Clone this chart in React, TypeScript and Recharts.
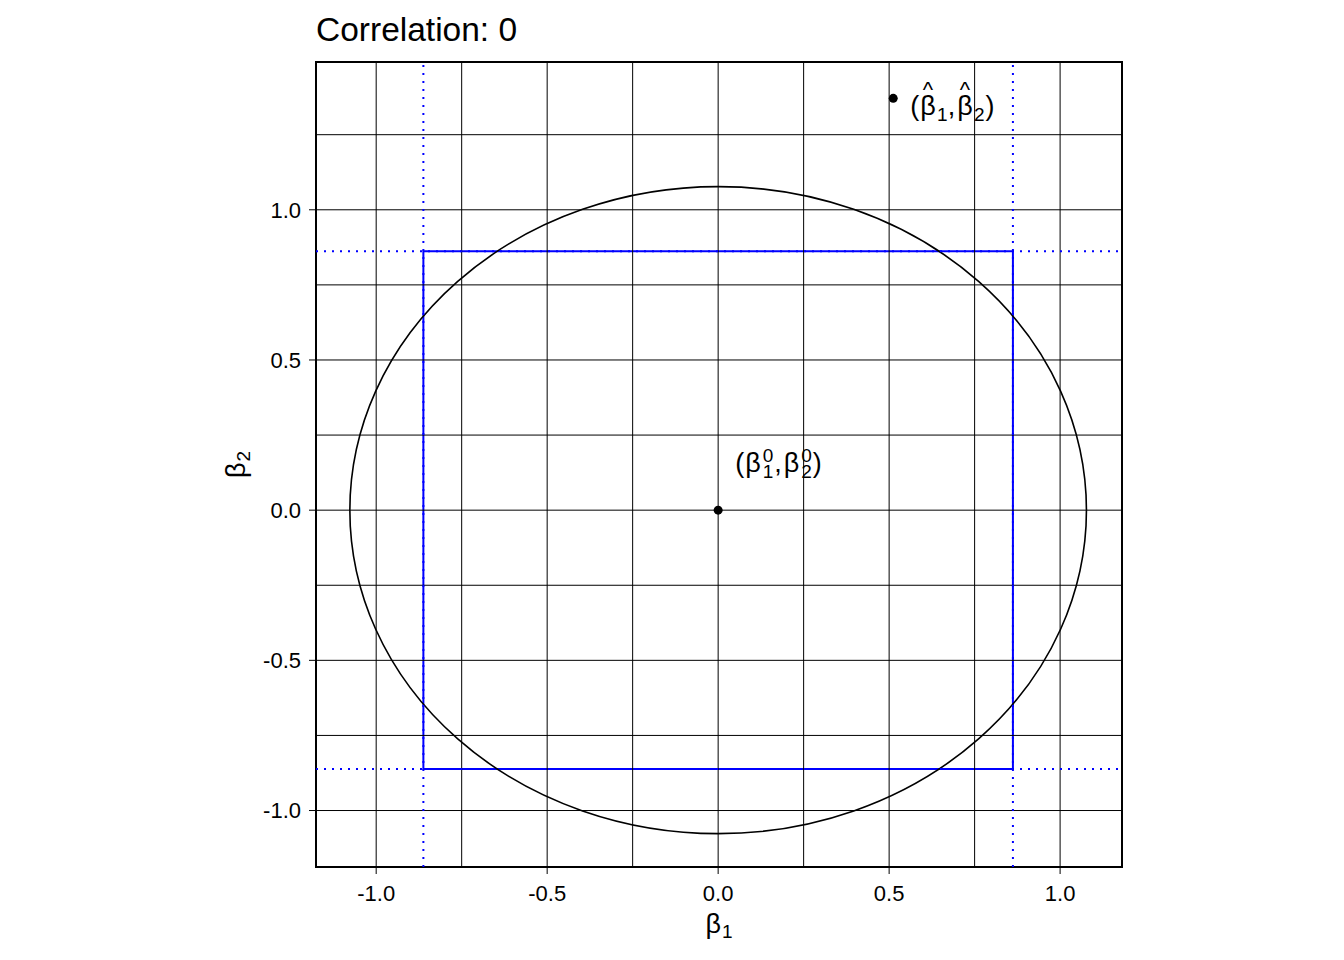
import React from 'react'
import {
    ComposedChart,
    XAxis,
    YAxis,
    Scatter,
    ReferenceLine,
    ReferenceArea
} from 'recharts'

// axis setup
const X_DOMAIN: [number, number] = [-1.176, 1.181]
const Y_DOMAIN: [number, number] = [-1.188, 1.492]
const X_TICKS = [-1, -0.5, 0, 0.5, 1]
const Y_TICKS = [-1, -0.5, 0, 0.5, 1]
const X_GRID = [-1, -0.75, -0.5, -0.25, 0, 0.25, 0.5, 0.75, 1]
const Y_GRID = [-1, -0.75, -0.5, -0.25, 0, 0.25, 0.5, 0.75, 1, 1.25]

// confidence regions (independent intervals and joint circle)
const BOX_HALF = 0.862
const CIRCLE_R = 1.077

// true value and estimate
const POINT_X = [0, 0.512]
const POINT_Y = [0, 1.371]
const POINT_KIND = ['true', 'hat']

const points = POINT_X.map((x, i) => ({ x, y: POINT_Y[i], kind: POINT_KIND[i] }))

const FONT = '"Liberation Sans", Arial, sans-serif'
const BLUE = '#0000ff'

const PointShape = (props: any) => {
    const { cx, cy, payload } = props
    if (payload.kind === 'hat') {
        return (
            <g>
                <circle cx={cx} cy={cy} r={4.5} fill="#000" />
                <text x={cx + 17} y={cy + 16.5} fontSize={27} fontFamily={FONT} fill="#000">
                    (<tspan dx={1}>β</tspan>
                    <tspan fontSize={22} dx={-13} dy={-18}>^</tspan>
                    <tspan fontSize={19} dx={4} dy={24}>1</tspan>
                    <tspan dy={-6}>,</tspan>
                    <tspan dx={2}>β</tspan>
                    <tspan fontSize={22} dx={-13} dy={-18}>^</tspan>
                    <tspan fontSize={19} dx={4} dy={24}>2</tspan>
                    <tspan dx={1} dy={-6}>)</tspan>
                </text>
            </g>
        )
    }
    return (
        <g>
            <circle cx={cx} cy={cy} r={4.5} fill="#000" />
            <text x={cx + 17} y={cy - 38.5} fontSize={27} fontFamily={FONT} fill="#000">
                (<tspan dx={1}>β</tspan>
                <tspan fontSize={19} dx={2} dy={-10}>0</tspan>
                <tspan fontSize={19} dx={-10.6} dy={16}>1</tspan>
                <tspan dx={1} dy={-6}>,</tspan>
                <tspan dx={2}>β</tspan>
                <tspan fontSize={19} dx={2} dy={-10}>0</tspan>
                <tspan fontSize={19} dx={-10.6} dy={16}>2</tspan>
                <tspan dx={1} dy={-6}>)</tspan>
            </text>
        </g>
    )
}

const XTitle = (props: any) => {
    const { x, y, width } = props.viewBox
    return (
        <text x={x + width / 2} y={y + 66} textAnchor="middle" fontSize={27} fontFamily={FONT} fill="#000">
            β<tspan fontSize={19} dx={1} dy={5}>1</tspan>
        </text>
    )
}

const YTitle = (props: any) => {
    const { x, y, height } = props.viewBox
    return (
        <text
            transform={`translate(${x + 29}, ${y + height / 2}) rotate(-90)`}
            textAnchor="middle"
            fontSize={27}
            fontFamily={FONT}
            fill="#000"
        >
            β<tspan fontSize={19} dx={1} dy={5}>2</tspan>
        </text>
    )
}

const ellipseShape = (p: any) => (
    <ellipse
        cx={p.x + p.width / 2}
        cy={p.y + p.height / 2}
        rx={Math.abs(p.width) / 2}
        ry={Math.abs(p.height) / 2}
        fill="none"
        stroke="#000"
        strokeWidth={1.6}
    />
)

export default function App() {
    const tickStyle = { fill: '#000', fontSize: 22, fontFamily: FONT }
    return (
        <div style={{ position: 'absolute', left: 0, top: 0, width: 1344, height: 960, background: '#fff' }}>
            <div
                style={{
                    position: 'absolute',
                    left: 316,
                    top: 13,
                    fontSize: 33.5,
                    lineHeight: '33px',
                    fontFamily: FONT,
                    color: '#000'
                }}
            >
                Correlation: 0
            </div>
            <ComposedChart
                width={1344}
                height={960}
                margin={{ top: 62, right: 222, bottom: 23, left: 216 }}
            >
                <XAxis
                    type="number"
                    dataKey="x"
                    domain={X_DOMAIN}
                    allowDataOverflow
                    ticks={X_TICKS}
                    tickFormatter={(v: number) => v.toFixed(1)}
                    axisLine={false}
                    tickLine={{ stroke: '#000' }}
                    tickSize={7}
                    tickMargin={11}
                    tick={tickStyle}
                    height={70}
                    label={(p: any) => <XTitle {...p} />}
                />
                <YAxis
                    type="number"
                    dataKey="y"
                    domain={Y_DOMAIN}
                    allowDataOverflow
                    ticks={Y_TICKS}
                    tickFormatter={(v: number) => v.toFixed(1)}
                    axisLine={false}
                    tickLine={{ stroke: '#000' }}
                    tickSize={7}
                    tickMargin={8}
                    tick={tickStyle}
                    width={100}
                    label={(p: any) => <YTitle {...p} />}
                />
                {X_GRID.map(v => (
                    <ReferenceLine key={'gx' + v} x={v} stroke="#000" strokeWidth={1} />
                ))}
                {Y_GRID.map(v => (
                    <ReferenceLine key={'gy' + v} y={v} stroke="#000" strokeWidth={1} />
                ))}
                <ReferenceLine x={-BOX_HALF} stroke={BLUE} strokeWidth={2} strokeDasharray="2 6" />
                <ReferenceLine x={BOX_HALF} stroke={BLUE} strokeWidth={2} strokeDasharray="2 6" />
                <ReferenceLine y={-BOX_HALF} stroke={BLUE} strokeWidth={2} strokeDasharray="2 6" />
                <ReferenceLine y={BOX_HALF} stroke={BLUE} strokeWidth={2} strokeDasharray="2 6" />
                <ReferenceArea
                    x1={-BOX_HALF}
                    x2={BOX_HALF}
                    y1={-BOX_HALF}
                    y2={BOX_HALF}
                    fill="none"
                    stroke={BLUE}
                    strokeWidth={2}
                />
                <ReferenceArea
                    x1={-CIRCLE_R}
                    x2={CIRCLE_R}
                    y1={-CIRCLE_R}
                    y2={CIRCLE_R}
                    shape={ellipseShape}
                />
                <ReferenceArea
                    x1={X_DOMAIN[0]}
                    x2={X_DOMAIN[1]}
                    y1={Y_DOMAIN[0]}
                    y2={Y_DOMAIN[1]}
                    fill="none"
                    stroke="#000"
                    strokeWidth={2}
                />
                <Scatter data={points} dataKey="y" isAnimationActive={false} shape={PointShape} />
            </ComposedChart>
        </div>
    )
}
